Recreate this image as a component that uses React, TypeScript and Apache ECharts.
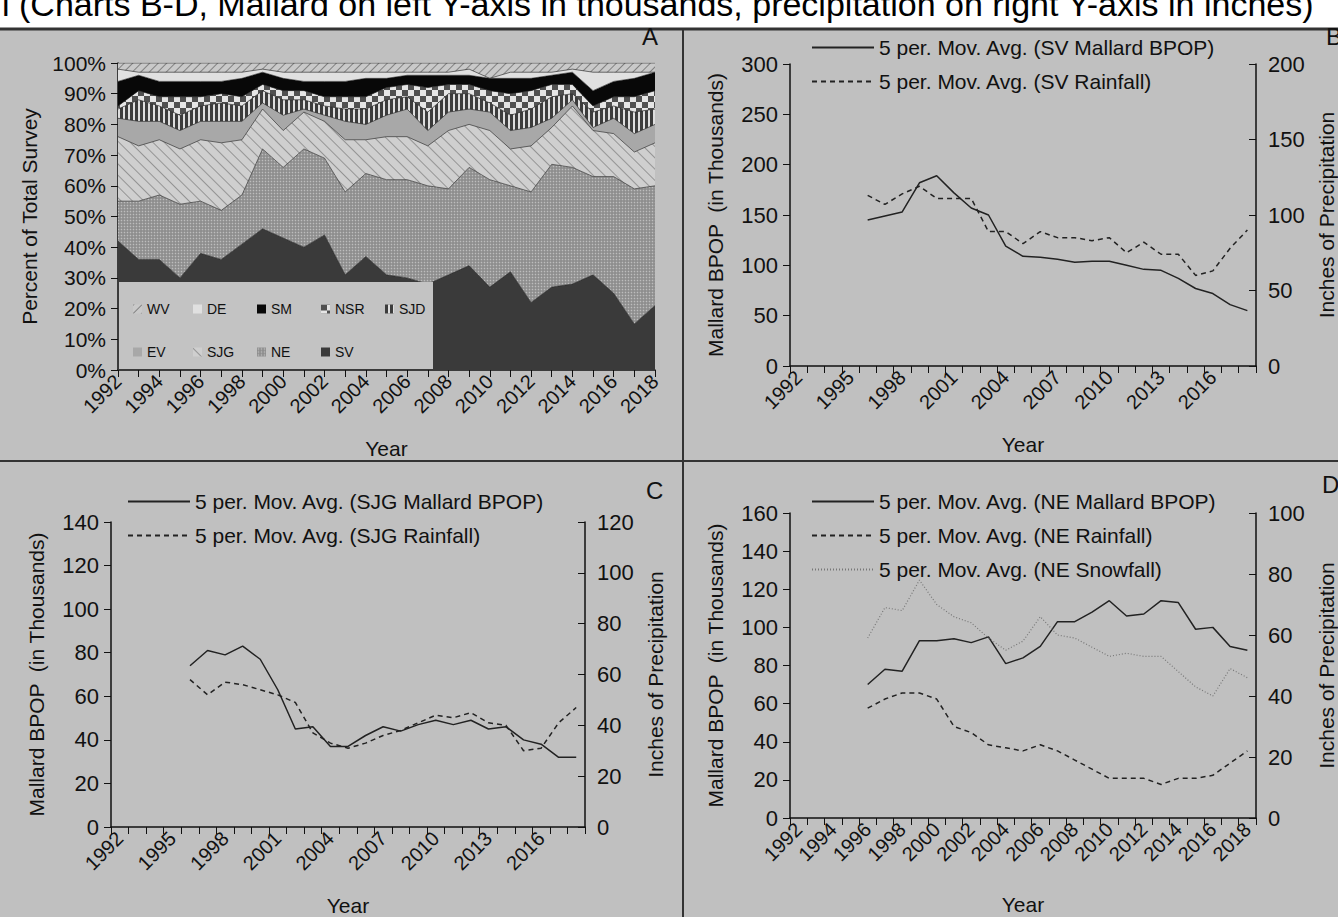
import React, { useEffect, useRef } from "react";
import * as echarts from "echarts";

const YEARS = Array.from({ length: 27 }, (_, i) => String(1992 + i));

// Panel A: cumulative tops (%) of each stacked region, bottom to top
const REGIONS = ["SV", "NE", "SJG", "EV", "SJD", "NSR", "SM", "DE", "WV"];
const TOP_SV = [42,36,36,30,38,36,41,46,43,40,44,31,37,31,30,28,31,34,27,32,22,27,28,31,25,15,21];
const TOP_NE = [55,55,57,54,55,52,57,72,66,72,69,58,64,62,62,60,59,66,62,60,58,67,66,63,63,59,60];
const TOP_SJG = [76,73,75,72,75,74,75,85,78,84,81,75,75,76,76,73,78,80,78,72,73,79,86,78,77,71,74];
const TOP_EV = [82,81,81,78,81,81,81,87,83,85,83,81,80,83,85,78,84,85,84,78,79,82,88,79,82,77,80];
const TOP_SJD = [85,88,86,83,86,87,86,91,88,88,86,85,85,88,89,84,90,90,87,83,85,89,90,84,86,84,85];
const TOP_NSR = [86,91,89,89,89,90,89,93,91,91,89,89,89,92,93,92,93,93,91,90,91,93,93,86,89,89,91];
const TOP_SM = [94,96,94,94,94,94,95,97,95,94,94,94,95,95,96,96,96,96,95,95,95,96,97,91,94,95,97];
const TOP_DE = [98,97,97,97,97,97,97,98,97,97,97,97,97,97,97,97,97,98,95,97,97,97,98,97,97,97,97];
const TOP_WV = YEARS.map(() => 100);

// Panel B
const SV_MALLARD = [145,149,153,182,189,172,157,150,119,109,108,106,103,104,104,100,96,95,87,77,72,61,55];
const SV_RAIN = [113,107,114,119,111,111,111,89,89,81,89,85,85,83,85,75,82,74,74,60,63,78,90];
// Panel C
const SJG_MALLARD = [74,81,79,83,77,63,45,46,37,37,42,46,44,47,49,47,49,45,46,40,38,32,32];
const SJG_RAIN = [58,52,57,56,54,52,49,37,33,31,33,36,38,41,44,43,45,41,40,30,31,41,47];
// Panel D
const NE_MALLARD = [70,78,77,93,93,94,92,95,81,84,90,103,103,108,114,106,107,114,113,99,100,90,88];
const NE_RAIN = [36,39,41,41,39,30,28,24,23,22,24,22,19,16,13,13,13,11,13,13,14,18,22];
const NE_SNOW = [59,69,68,78,70,66,64,59,55,58,66,60,59,56,53,54,53,53,48,43,40,49,46];

const FONT = "Liberation Sans";
const pad = (a: number[]) => [null, null, null, null, ...a];

export default function App() {
  const ref = useRef<HTMLDivElement>(null);
  useEffect(() => {
    document.body.style.margin = "0";
    const chart = echarts.init(ref.current!, null, { renderer: "svg" });
    const tops = [TOP_SV, TOP_NE, TOP_SJG, TOP_EV, TOP_SJD, TOP_NSR, TOP_SM, TOP_DE, TOP_WV];
    const colors = ["#3a3a3a", "#8e8e8e", "#cfcfcf", "#a8a8a8", "#3c3c3c", "#505050", "#080808", "#e0e0e0", "#c9c9c9"];
    const decals: any[] = [
      null,
      { symbol: "circle", symbolSize: 0.5, dashArrayX: [3, 0], dashArrayY: [3, 0], color: "rgba(220,220,220,0.6)" },
      { symbol: "rect", dashArrayX: [1, 0], dashArrayY: [1, 7], rotation: Math.PI / 4, color: "rgba(90,90,90,0.5)" },
      null,
      { symbol: "rect", dashArrayX: [1, 0], dashArrayY: [2, 3], rotation: Math.PI / 2, color: "rgba(240,240,240,0.9)" },
      { symbol: "rect", symbolSize: 1, dashArrayX: [[6, 6], [0, 6, 6, 0]], dashArrayY: [6, 0], color: "rgba(245,245,245,0.9)" },
      null,
      null,
      { symbol: "rect", dashArrayX: [1, 0], dashArrayY: [1, 5], rotation: -Math.PI / 4, color: "rgba(80,80,80,0.6)" },
    ];
    const grids = [
      { left: 118, right: 683, top: 63, bottom: 547 },
      { left: 790, right: 78, top: 64, bottom: 551 },
      { left: 111, right: 753, top: 522, bottom: 89 },
      { left: 790, right: 75, top: 513, bottom: 99 },
    ];
    const lbl = { color: "#111", fontSize: 21, fontFamily: FONT };
    const axLine = { show: true, lineStyle: { color: "#111", width: 1.5 } };
    const xAxes: any[] = grids.map((_, i) => ({
      type: "category",
      gridIndex: i,
      data: YEARS,
      boundaryGap: i !== 0,
      axisLine: axLine,
      axisTick: { show: true, interval: 0, length: 7, lineStyle: { color: "#111" } },
      axisLabel: { ...lbl, rotate: 45, interval: i === 1 || i === 2 ? 2 : 1, fontSize: 20, margin: 8 },
      name: "Year",
      nameLocation: "middle",
      nameGap: i === 3 ? 76 : 68,
      nameTextStyle: { ...lbl, fontSize: 21 },
      splitLine: { show: false },
    }));
    const yLeft = (g: number, max: number, interval: number, name: string, fmt?: string) => ({
      type: "value", gridIndex: g, min: 0, max, interval,
      axisLine: axLine,
      axisTick: { show: true, length: 7, lineStyle: { color: "#111" } },
      axisLabel: { ...lbl, fontSize: g === 0 ? 21 : 22, formatter: fmt || "{value}", margin: 12 },
      splitLine: { show: false },
      name, nameLocation: "middle", nameGap: g === 0 ? 78 : 64,
      nameTextStyle: { ...lbl, fontSize: 21 },
    });
    const yRight = (g: number, max: number, interval: number) => ({
      type: "value", gridIndex: g, min: 0, max, interval, position: "right",
      axisLine: axLine,
      axisTick: { show: true, inside: true, length: 7, lineStyle: { color: "#111" } },
      axisLabel: { ...lbl, fontSize: 22, margin: 12 },
      splitLine: { show: false },
      name: "Inches of Precipitation", nameLocation: "middle", nameGap: 60,
      nameTextStyle: { ...lbl, fontSize: 21 },
    });
    const yAxes: any[] = [
      yLeft(0, 100, 10, "Percent of Total Survey", "{value}%"),
      yLeft(1, 300, 50, "Mallard BPOP  (in Thousands)"),
      yRight(1, 200, 50),
      yLeft(2, 140, 20, "Mallard BPOP  (in Thousands)"),
      yRight(2, 120, 20),
      yLeft(3, 160, 20, "Mallard BPOP  (in Thousands)"),
      yRight(3, 100, 20),
    ];
    const series: any[] = REGIONS.map((name, k) => ({
      name, type: "line", xAxisIndex: 0, yAxisIndex: 0, stack: "A",
      symbol: "none", lineStyle: { width: 0.6, color: "#222" },
      areaStyle: { color: colors[k], opacity: 1, decal: decals[k] || undefined },
      itemStyle: { color: colors[k], decal: decals[k] || undefined },
      data: tops[k].map((v, j) => v - (k === 0 ? 0 : tops[k - 1][j])),
    }));
    const solid = { color: "#222", width: 1.5, type: "solid" };
    const dashed = { color: "#222", width: 1.5, type: [5, 4] };
    const dotted = { color: "#777", width: 1.2, type: [1, 2] };
    const ln = (name: string, x: number, y: number, data: number[], ls: any) => ({
      name, type: "line", xAxisIndex: x, yAxisIndex: y, symbol: "none",
      lineStyle: ls, itemStyle: { color: ls.color }, data: pad(data), z: 5,
    });
    series.push(
      ln("5 per. Mov. Avg. (SV Mallard BPOP)", 1, 1, SV_MALLARD, solid),
      ln("5 per. Mov. Avg. (SV Rainfall)", 1, 2, SV_RAIN, dashed),
      ln("5 per. Mov. Avg. (SJG Mallard BPOP)", 2, 3, SJG_MALLARD, solid),
      ln("5 per. Mov. Avg. (SJG Rainfall)", 2, 4, SJG_RAIN, dashed),
      ln("5 per. Mov. Avg. (NE Mallard BPOP)", 3, 5, NE_MALLARD, solid),
      ln("5 per. Mov. Avg. (NE Rainfall)", 3, 6, NE_RAIN, dashed),
      ln("5 per. Mov. Avg. (NE Snowfall)", 3, 6, NE_SNOW, dotted),
    );
    const legTxt = { ...lbl, fontSize: 21 };
    const lineLegend = (names: string[], left: number, top: number) => ({
      data: names, left, top, orient: "vertical", itemWidth: 62, itemHeight: 14, itemGap: 13,
      textStyle: legTxt, selectedMode: false, itemStyle: { opacity: 0 },
    });
    const aPos = [
      ["WV", 128, 297], ["DE", 188, 297], ["SM", 252, 297], ["NSR", 316, 297], ["SJD", 380, 297],
      ["EV", 128, 340], ["SJG", 188, 340], ["NE", 252, 340], ["SV", 316, 340],
    ] as [string, number, number][];
    const legends: any[] = aPos.map(([n, l, t]) => ({
      data: [n], left: l, top: t, itemWidth: 9, itemHeight: 9, itemGap: 4,
      textStyle: { ...lbl, fontSize: 14 }, selectedMode: false, icon: "rect",
    }));
    legends.push(
      lineLegend(["5 per. Mov. Avg. (SV Mallard BPOP)", "5 per. Mov. Avg. (SV Rainfall)"], 806, 32),
      lineLegend(["5 per. Mov. Avg. (SJG Mallard BPOP)", "5 per. Mov. Avg. (SJG Rainfall)"], 122, 486),
      lineLegend(["5 per. Mov. Avg. (NE Mallard BPOP)", "5 per. Mov. Avg. (NE Rainfall)", "5 per. Mov. Avg. (NE Snowfall)"], 806, 486),
    );
    chart.setOption({
      animation: false,
      backgroundColor: "#c0c0c0",
      grid: grids,
      xAxis: xAxes,
      yAxis: yAxes,
      legend: legends,
      series,
      graphic: [
        { type: "rect", shape: { x: 0, y: 0, width: 1338, height: 28 }, style: { fill: "#ffffff" }, z: 1 },
        { type: "text", x: 2, y: -13, style: { text: "l (Charts B-D, Mallard on left Y-axis in thousands, precipitation on right Y-axis in inches)", font: `34px '${FONT}'`, fill: "#000" }, z: 2 },
        { type: "line", shape: { x1: 0, y1: 29, x2: 1338, y2: 29 }, style: { stroke: "#333", lineWidth: 3 }, z: 3 },
        { type: "line", shape: { x1: 683, y1: 29, x2: 683, y2: 917 }, style: { stroke: "#333", lineWidth: 2 }, z: 3 },
        { type: "line", shape: { x1: 0, y1: 461, x2: 1338, y2: 461 }, style: { stroke: "#333", lineWidth: 2 }, z: 3 },
        { type: "rect", shape: { x: 119, y: 282, width: 314, height: 87 }, style: { fill: "#c3c3c3" }, z: 4 },
        { type: "text", x: 642, y: 24, style: { text: "A", font: `24px '${FONT}'`, fill: "#111" }, z: 5 },
        { type: "text", x: 1326, y: 24, style: { text: "B", font: `24px '${FONT}'`, fill: "#111" }, z: 5 },
        { type: "text", x: 646, y: 478, style: { text: "C", font: `24px '${FONT}'`, fill: "#111" }, z: 5 },
        { type: "text", x: 1322, y: 472, style: { text: "D", font: `24px '${FONT}'`, fill: "#111" }, z: 5 },
      ],
    });
    return () => chart.dispose();
  }, []);
  return <div ref={ref} style={{ width: 1338, height: 917 }} />;
}
